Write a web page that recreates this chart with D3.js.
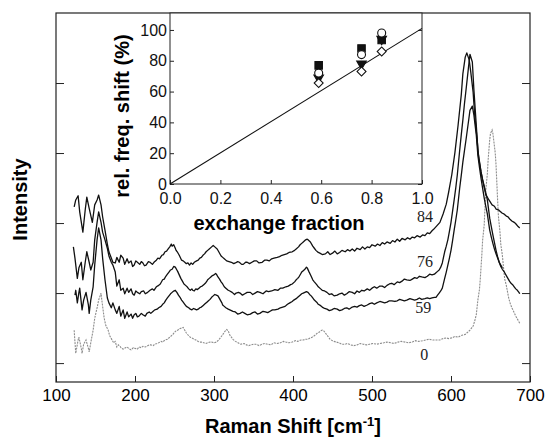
<!DOCTYPE html>
<html>
<head>
<meta charset="utf-8">
<script src="https://cdn.jsdelivr.net/npm/d3@7"></script>
<style>
  body { margin: 0; background: #fff; }
  svg { display: block; }
  .axis text { font-family: "Liberation Sans", Arial, sans-serif; }
</style>
</head>
<body>
<div id="raman-chart"></div>
<script>
// spectra: [Raman shift (cm-1), intensity (a.u., offset)]
var spectrum84 = [[123,2.23],[125,2.33],[128,2.39],[130,2.16],[134,1.87],[137,2.19],[139,2.37],[142,2.21],[146,2.01],[149,2.26],[152,2.33],[154,2.40],[157,2.26],[159,2.09],[162,1.90],[165,1.70],[167,1.59],[170,1.50],[172,1.44],[175,1.43],[177,1.51],[180,1.44],[182,1.54],[185,1.50],[187,1.41],[190,1.49],[192,1.43],[195,1.46],[197,1.38],[199,1.40],[201,1.46],[203,1.44],[206,1.41],[208,1.45],[210,1.43],[212,1.39],[214,1.40],[217,1.45],[219,1.44],[222,1.41],[224,1.44],[227,1.47],[229,1.50],[231,1.49],[234,1.54],[236,1.55],[238,1.59],[240,1.60],[242,1.63],[244,1.66],[246,1.70],[247,1.67],[249,1.69],[251,1.64],[252,1.61],[254,1.58],[256,1.54],[259,1.47],[261,1.46],[263,1.44],[265,1.42],[267,1.43],[269,1.40],[271,1.43],[273,1.41],[275,1.44],[278,1.46],[280,1.47],[282,1.50],[284,1.51],[286,1.54],[288,1.56],[290,1.59],[292,1.61],[294,1.63],[297,1.66],[299,1.68],[301,1.66],[304,1.63],[306,1.59],[309,1.53],[311,1.51],[313,1.49],[316,1.46],[319,1.45],[322,1.44],[325,1.42],[327,1.43],[330,1.45],[332,1.44],[335,1.41],[337,1.41],[340,1.44],[342,1.44],[345,1.42],[348,1.44],[351,1.46],[354,1.46],[357,1.43],[361,1.44],[364,1.47],[367,1.47],[370,1.46],[373,1.49],[376,1.50],[380,1.51],[383,1.52],[386,1.54],[389,1.55],[392,1.56],[395,1.58],[399,1.59],[402,1.61],[404,1.63],[407,1.66],[409,1.69],[411,1.71],[413,1.73],[416,1.76],[418,1.77],[419,1.76],[422,1.73],[425,1.67],[427,1.64],[429,1.61],[432,1.58],[434,1.57],[437,1.55],[441,1.56],[444,1.59],[447,1.55],[450,1.57],[453,1.60],[456,1.56],[459,1.58],[462,1.61],[466,1.59],[469,1.62],[472,1.60],[475,1.63],[478,1.60],[481,1.64],[485,1.62],[488,1.66],[491,1.63],[494,1.66],[497,1.65],[500,1.69],[504,1.67],[507,1.70],[510,1.68],[513,1.72],[516,1.70],[519,1.73],[523,1.71],[526,1.75],[529,1.73],[532,1.77],[535,1.74],[538,1.78],[542,1.76],[545,1.79],[548,1.77],[551,1.80],[554,1.79],[557,1.82],[561,1.80],[564,1.83],[567,1.82],[570,1.86],[573,1.85],[576,1.89],[578,1.91],[582,1.96],[586,2.01],[590,2.13],[594,2.27],[597,2.44],[601,2.69],[605,3.01],[609,3.40],[613,3.83],[615,4.13],[618,4.37],[620,4.43],[623,4.33],[625,4.16],[628,3.87],[630,3.54],[633,3.21],[635,2.93],[638,2.73],[641,2.56],[644,2.41],[648,2.33],[652,2.26],[655,2.24],[657,2.20],[660,2.19],[662,2.17],[665,2.14],[667,2.13],[670,2.10],[672,2.09],[675,2.05],[677,2.03],[680,2.01],[682,1.99],[685,1.95],[687,1.93]];

var spectrum76 = [[122,1.66],[124,1.50],[127,1.21],[129,1.36],[132,1.44],[134,1.19],[137,1.44],[139,1.59],[142,1.44],[144,1.33],[147,1.44],[149,1.76],[152,2.01],[154,2.16],[157,2.01],[159,1.87],[162,1.76],[165,1.64],[167,1.53],[170,1.44],[172,1.40],[175,1.30],[177,1.10],[180,1.19],[182,1.04],[185,1.07],[187,0.99],[190,1.07],[192,1.01],[195,1.06],[197,0.99],[199,0.97],[201,1.03],[203,1.01],[206,0.99],[208,1.02],[211,1.03],[213,0.99],[216,1.01],[219,1.04],[222,1.06],[224,1.04],[227,1.09],[230,1.11],[232,1.13],[235,1.19],[237,1.20],[239,1.24],[241,1.27],[243,1.30],[245,1.33],[247,1.34],[249,1.38],[251,1.37],[253,1.33],[254,1.31],[256,1.26],[258,1.21],[260,1.17],[262,1.13],[264,1.11],[266,1.09],[268,1.06],[270,1.04],[272,1.06],[273,1.04],[275,1.03],[277,1.06],[279,1.05],[281,1.07],[283,1.09],[285,1.10],[287,1.12],[289,1.14],[291,1.17],[292,1.19],[294,1.21],[296,1.23],[298,1.25],[300,1.26],[302,1.28],[303,1.27],[305,1.23],[307,1.20],[309,1.16],[311,1.13],[313,1.09],[315,1.07],[318,1.04],[320,1.03],[323,1.01],[326,0.98],[328,1.00],[331,1.01],[333,1.00],[336,0.97],[339,0.99],[342,1.01],[346,1.01],[349,0.98],[352,1.00],[355,1.02],[358,1.01],[362,0.99],[366,1.03],[369,1.02],[373,1.03],[377,1.05],[381,1.04],[384,1.07],[387,1.07],[391,1.09],[394,1.10],[397,1.12],[399,1.13],[402,1.16],[404,1.19],[406,1.21],[408,1.24],[410,1.28],[411,1.30],[413,1.32],[415,1.34],[417,1.37],[418,1.36],[420,1.31],[423,1.24],[425,1.19],[427,1.16],[430,1.12],[432,1.09],[435,1.06],[437,1.04],[440,1.03],[443,1.01],[446,0.98],[449,0.99],[452,0.96],[456,0.97],[459,0.99],[462,1.00],[465,0.97],[468,0.99],[471,1.02],[475,1.01],[478,0.99],[481,1.03],[484,1.01],[487,1.04],[490,1.03],[494,1.06],[497,1.04],[500,1.07],[503,1.09],[506,1.07],[510,1.10],[513,1.10],[516,1.08],[519,1.11],[522,1.13],[525,1.14],[528,1.12],[532,1.16],[535,1.15],[538,1.17],[541,1.20],[544,1.19],[548,1.18],[551,1.20],[554,1.22],[557,1.21],[560,1.24],[563,1.23],[567,1.22],[570,1.24],[573,1.27],[576,1.26],[579,1.27],[581,1.29],[583,1.31],[585,1.33],[587,1.37],[589,1.43],[592,1.59],[594,1.67],[596,1.76],[598,1.88],[600,2.01],[602,2.17],[604,2.33],[606,2.50],[608,2.69],[611,3.04],[613,3.26],[615,3.47],[617,3.70],[619,3.90],[622,4.21],[624,4.41],[627,4.30],[629,3.90],[632,3.40],[634,3.04],[636,2.88],[638,2.73],[640,2.62],[642,2.53],[644,2.43],[646,2.33],[649,2.07],[651,1.95],[653,1.83],[655,1.72],[657,1.61],[659,1.52],[661,1.44],[663,1.38],[665,1.34],[667,1.31],[668,1.29],[670,1.25],[672,1.21],[674,1.17],[676,1.14],[678,1.12],[680,1.09],[682,1.06],[684,1.04],[686,1.01],[687,0.99]];

var spectrum59 = [[124,0.97],[125,1.04],[127,0.86],[129,1.01],[130,1.07],[133,0.76],[135,0.90],[138,1.01],[141,0.83],[142,0.71],[144,0.90],[147,1.09],[149,1.40],[152,1.76],[154,1.93],[157,1.76],[159,1.50],[162,1.19],[165,0.93],[167,0.86],[170,0.79],[172,0.86],[175,0.76],[177,0.71],[180,0.81],[182,0.67],[185,0.76],[187,0.64],[190,0.73],[192,0.66],[195,0.70],[197,0.64],[199,0.69],[201,0.71],[203,0.66],[205,0.67],[208,0.71],[210,0.69],[213,0.67],[215,0.71],[218,0.73],[220,0.71],[223,0.74],[225,0.76],[228,0.77],[230,0.79],[233,0.81],[235,0.84],[237,0.86],[239,0.90],[241,0.93],[243,0.96],[245,0.99],[247,1.01],[249,1.03],[251,1.04],[253,1.01],[255,0.97],[257,0.94],[259,0.90],[261,0.87],[263,0.84],[265,0.81],[268,0.79],[270,0.77],[272,0.76],[274,0.78],[276,0.77],[278,0.76],[280,0.77],[282,0.79],[284,0.80],[286,0.82],[287,0.83],[289,0.85],[291,0.87],[293,0.89],[295,0.91],[297,0.94],[299,0.96],[301,0.98],[303,0.97],[305,0.96],[307,0.92],[308,0.90],[310,0.86],[311,0.83],[313,0.81],[315,0.79],[318,0.77],[320,0.76],[324,0.74],[327,0.73],[330,0.70],[333,0.71],[336,0.73],[339,0.71],[342,0.69],[346,0.70],[349,0.72],[352,0.73],[355,0.70],[358,0.71],[362,0.74],[365,0.73],[368,0.72],[371,0.74],[374,0.76],[377,0.76],[381,0.77],[384,0.79],[387,0.80],[390,0.81],[393,0.84],[396,0.86],[399,0.88],[401,0.90],[404,0.92],[406,0.94],[409,0.97],[411,0.99],[413,1.00],[415,1.01],[417,1.02],[419,1.01],[421,0.98],[423,0.96],[425,0.93],[427,0.90],[430,0.87],[432,0.84],[435,0.82],[437,0.80],[440,0.78],[443,0.77],[446,0.75],[449,0.76],[452,0.78],[456,0.77],[459,0.75],[462,0.76],[465,0.78],[468,0.79],[471,0.77],[475,0.80],[478,0.81],[481,0.80],[484,0.82],[487,0.83],[490,0.81],[494,0.83],[497,0.85],[500,0.86],[503,0.84],[506,0.86],[510,0.88],[513,0.87],[516,0.86],[519,0.87],[522,0.89],[525,0.89],[529,0.88],[532,0.89],[535,0.91],[538,0.90],[541,0.89],[544,0.90],[548,0.92],[551,0.91],[554,0.90],[557,0.91],[560,0.93],[563,0.91],[567,0.92],[570,0.93],[573,0.92],[576,0.93],[579,0.94],[581,0.94],[583,0.97],[585,1.00],[587,1.03],[589,1.07],[592,1.21],[594,1.30],[596,1.40],[598,1.50],[600,1.61],[602,1.75],[604,1.90],[606,2.04],[608,2.19],[611,2.50],[613,2.68],[615,2.87],[617,3.03],[619,3.19],[622,3.44],[624,3.61],[627,3.67],[629,3.54],[632,3.26],[634,2.97],[636,2.80],[638,2.64],[640,2.50],[642,2.36],[644,2.24],[646,2.13],[649,1.90],[651,1.80],[653,1.71],[655,1.63],[657,1.56],[659,1.50],[661,1.44],[663,1.40],[665,1.36]];

var spectrum0 = [[123,0.47],[124,0.30],[125,0.14],[128,0.33],[129,0.37],[132,0.21],[133,0.14],[135,0.27],[138,0.33],[141,0.21],[142,0.16],[144,0.29],[147,0.47],[149,0.64],[152,0.79],[154,0.90],[157,1.00],[158,0.90],[161,0.64],[163,0.54],[166,0.47],[168,0.39],[171,0.33],[173,0.29],[175,0.31],[177,0.23],[179,0.26],[181,0.24],[183,0.21],[185,0.20],[188,0.22],[190,0.23],[193,0.20],[195,0.19],[198,0.22],[200,0.21],[203,0.20],[205,0.23],[208,0.22],[210,0.24],[213,0.23],[215,0.24],[218,0.26],[220,0.26],[223,0.25],[225,0.27],[228,0.28],[230,0.29],[233,0.31],[235,0.30],[238,0.33],[241,0.34],[244,0.37],[246,0.39],[248,0.41],[250,0.44],[252,0.46],[254,0.47],[256,0.49],[259,0.50],[261,0.51],[262,0.49],[265,0.43],[268,0.39],[270,0.37],[272,0.36],[275,0.34],[277,0.33],[280,0.31],[282,0.30],[285,0.30],[287,0.29],[290,0.28],[292,0.29],[295,0.30],[297,0.30],[300,0.29],[303,0.30],[306,0.33],[308,0.36],[310,0.39],[313,0.44],[315,0.47],[316,0.48],[318,0.46],[320,0.40],[322,0.37],[324,0.34],[327,0.31],[329,0.30],[332,0.28],[334,0.27],[338,0.28],[341,0.26],[344,0.25],[347,0.26],[350,0.27],[353,0.27],[357,0.25],[361,0.27],[364,0.28],[368,0.27],[372,0.26],[376,0.29],[380,0.28],[384,0.29],[388,0.31],[391,0.30],[395,0.29],[399,0.30],[403,0.32],[406,0.31],[410,0.33],[413,0.33],[416,0.34],[419,0.34],[422,0.36],[424,0.37],[427,0.39],[429,0.41],[431,0.43],[433,0.44],[435,0.46],[437,0.47],[439,0.46],[441,0.43],[443,0.40],[445,0.37],[447,0.34],[450,0.32],[452,0.31],[455,0.30],[458,0.29],[462,0.27],[466,0.27],[469,0.28],[473,0.26],[477,0.25],[481,0.26],[485,0.28],[489,0.27],[493,0.26],[497,0.27],[501,0.28],[506,0.27],[510,0.28],[515,0.29],[519,0.30],[524,0.29],[528,0.28],[533,0.30],[537,0.31],[542,0.30],[546,0.29],[551,0.30],[555,0.32],[559,0.31],[564,0.32],[568,0.33],[572,0.34],[577,0.33],[581,0.33],[586,0.33],[590,0.35],[594,0.36],[597,0.35],[601,0.36],[605,0.38],[609,0.37],[612,0.39],[615,0.40],[618,0.41],[620,0.43],[622,0.45],[624,0.47],[626,0.50],[628,0.53],[630,0.60],[632,0.69],[634,0.90],[636,1.05],[637,1.19],[639,1.54],[640,1.75],[642,1.97],[643,2.22],[644,2.47],[646,2.70],[647,2.90],[649,3.19],[650,3.28],[652,3.33],[653,3.28],[654,3.19],[656,3.00],[657,2.83],[659,2.33],[660,2.10],[662,1.87],[663,1.70],[665,1.54],[667,1.30],[668,1.20],[670,1.11],[673,0.93],[675,0.85],[677,0.79],[680,0.72],[682,0.67],[685,0.61],[687,0.57]];

// curve labels (exchange %), placed at [shift, intensity]
var curveLabels = ["84", "76", "59", "0"];
var labelShift = [567, 567, 565, 566];
var labelLevel = [2.01, 1.37, 0.71, 0.04];

var xTicks = [100, 200, 300, 400, 500, 600, 700];
var yTicks = [0, 1, 2, 3, 4];

// inset: relative frequency shift vs exchange fraction
var exchangeFraction = [0.59, 0.76, 0.84];
var shiftSquare = [77, 88, 93.5];
var shiftTriangle = [69, 78, 94];
var shiftCircle = [72, 84, 98];
var shiftDiamond = [65.5, 73, 86];
var fitLine = [[0, 0], [1, 101]];
var insetXTicks = [0, 0.2, 0.4, 0.6, 0.8, 1.0];
var insetYTicks = [0, 20, 40, 60, 80, 100];

var margin = {top: 13, right: 18, bottom: 57, left: 56};
var width = 548 - margin.left - margin.right,
	height = 439 - margin.top - margin.bottom;

var svg = d3.select("#raman-chart")
	.append("svg")
	.attr("width", 548)
	.attr("height", 439);

var chart = svg.append("g")
	.attr("transform", "translate(" + margin.left + "," + margin.top + ")");

var x = d3.scaleLinear().domain([100, 700]).range([0, width]);
var y = d3.scaleLinear().domain([-0.27, 5.0]).range([height, 0]);

var line = d3.line()
	.x(function(d) { return x(d[0]); })
	.y(function(d) { return y(d[1]); });

// spectra
chart.append("path").datum(spectrum0)
	.attr("d", line).attr("fill", "none")
	.attr("stroke", "#8c8c8c").attr("stroke-width", 1.1)
	.attr("stroke-dasharray", "2,1");

[spectrum59, spectrum76, spectrum84].forEach(function(s) {
	chart.append("path").datum(s)
		.attr("d", line).attr("fill", "none")
		.attr("stroke", "#111").attr("stroke-width", 1.3)
		.attr("stroke-linejoin", "round");
});

chart.append("g")
	.selectAll("text")
	.data(curveLabels)
	.enter().append("text")
	.attr("x", function(d, i) { return x(labelShift[i]); })
	.attr("y", function(d, i) { return y(labelLevel[i]); })
	.attr("text-anchor", "middle")
	.attr("font-family", "Liberation Serif, Times New Roman, serif")
	.attr("font-size", "16px")
	.attr("fill", "#222")
	.text(function(d) { return d; });

// axes, ticks inward, no labels on y
chart.append("g")
	.attr("class", "axis")
	.attr("transform", "translate(0," + height + ")")
	.call(d3.axisBottom(x).tickValues(xTicks).tickSizeInner(-6).tickSizeOuter(0).tickPadding(7))
	.attr("font-size", "17px")
	.call(function(g) { g.select(".domain").remove(); });

chart.append("g")
	.attr("class", "axis")
	.call(d3.axisLeft(y).tickValues(yTicks).tickSizeInner(-8).tickSizeOuter(0).tickFormat(""))
	.call(function(g) { g.select(".domain").remove(); });

chart.append("g")
	.attr("class", "axis")
	.attr("transform", "translate(" + width + ",0)")
	.call(d3.axisRight(y).tickValues(yTicks).tickSizeInner(-8).tickSizeOuter(0).tickFormat(""))
	.call(function(g) { g.select(".domain").remove(); });

chart.selectAll(".axis line").attr("stroke", "#222");

chart.append("rect")
	.attr("x", 0).attr("y", 0)
	.attr("width", width).attr("height", height)
	.attr("style", "stroke: #222; fill: none; stroke-width: 1.2px;");

// axis titles
svg.append("text")
	.attr("x", margin.left + width / 2)
	.attr("y", 433)
	.attr("text-anchor", "middle")
	.attr("font-family", "Liberation Sans, Arial, sans-serif")
	.attr("font-size", "20px")
	.attr("font-weight", "bold")
	.text("Raman Shift [cm")
	.append("tspan").attr("font-size", "13px").attr("dy", "-7").text("-1")
	.select(function() { return this.parentNode; })
	.append("tspan").attr("dy", "7").text("]");

svg.append("text")
	.attr("transform", "translate(27," + (margin.top + height / 2 + 2) + ") rotate(-90)")
	.attr("text-anchor", "middle")
	.attr("font-family", "Liberation Sans, Arial, sans-serif")
	.attr("font-size", "20px")
	.attr("font-weight", "bold")
	.text("Intensity");

// inset
var inset = chart.append("g")
	.attr("transform", "translate(114,0)");
var iw = 252, ih = 171;

var ix = d3.scaleLinear().domain([0, 1]).range([0, iw]);
var iy = d3.scaleLinear().domain([0, 111]).range([ih, 0]);

inset.append("rect")
	.attr("width", iw).attr("height", ih)
	.attr("fill", "#fff");

inset.append("g")
	.attr("class", "axis")
	.attr("transform", "translate(0," + ih + ")")
	.call(d3.axisBottom(ix).tickValues(insetXTicks).tickFormat(d3.format(".1f"))
		.tickSizeInner(-4).tickSizeOuter(0).tickPadding(9))
	.attr("font-size", "16px")
	.call(function(g) { g.select(".domain").remove(); });

inset.append("g")
	.attr("class", "axis")
	.call(d3.axisLeft(iy).tickValues(insetYTicks)
		.tickSizeInner(-4).tickSizeOuter(0).tickPadding(3))
	.attr("font-size", "16px")
	.call(function(g) { g.select(".domain").remove(); });

inset.append("g")
	.attr("class", "axis")
	.attr("transform", "translate(" + iw + ",0)")
	.call(d3.axisRight(iy).tickValues(insetYTicks).tickFormat("")
		.tickSizeInner(-4).tickSizeOuter(0))
	.call(function(g) { g.select(".domain").remove(); });

inset.selectAll(".axis line").attr("stroke", "#222");
inset.selectAll(".axis text").attr("fill", "#111");

inset.append("rect")
	.attr("width", iw).attr("height", ih)
	.attr("style", "stroke: #222; fill: none; stroke-width: 1px;");

inset.append("path")
	.datum(fitLine)
	.attr("d", d3.line().x(function(d) { return ix(d[0]); }).y(function(d) { return iy(d[1]); }))
	.attr("stroke", "#111").attr("stroke-width", 1.1).attr("fill", "none");

function drawSeries(values, symbolType, size, filled, rotate) {
	inset.append("g")
		.selectAll("path")
		.data(values)
		.enter().append("path")
		.attr("d", d3.symbol().type(symbolType).size(size))
		.attr("transform", function(d, i) {
			return "translate(" + ix(exchangeFraction[i]) + "," + iy(d) + ") rotate(" + rotate + ")";
		})
		.attr("fill", filled ? "#111" : "#fff")
		.attr("stroke", "#111")
		.attr("stroke-width", 1.1);
}

drawSeries(shiftSquare, d3.symbolSquare, 56, true, 0);
drawSeries(shiftTriangle, d3.symbolTriangle, 40, true, 180);
drawSeries(shiftCircle, d3.symbolCircle, 50, false, 0);
drawSeries(shiftDiamond, d3.symbolSquare, 40, false, 45);

inset.append("text")
	.attr("x", 109)
	.attr("y", 217)
	.attr("text-anchor", "middle")
	.attr("font-family", "Liberation Sans, Arial, sans-serif")
	.attr("font-size", "20px")
	.attr("font-weight", "bold")
	.text("exchange fraction");

inset.append("text")
	.attr("transform", "translate(-41," + 103 + ") rotate(-90)")
	.attr("text-anchor", "middle")
	.attr("font-family", "Liberation Sans, Arial, sans-serif")
	.attr("font-size", "20px")
	.attr("font-weight", "bold")
	.text("rel. freq. shift (%)");
</script>
</body>
</html>
